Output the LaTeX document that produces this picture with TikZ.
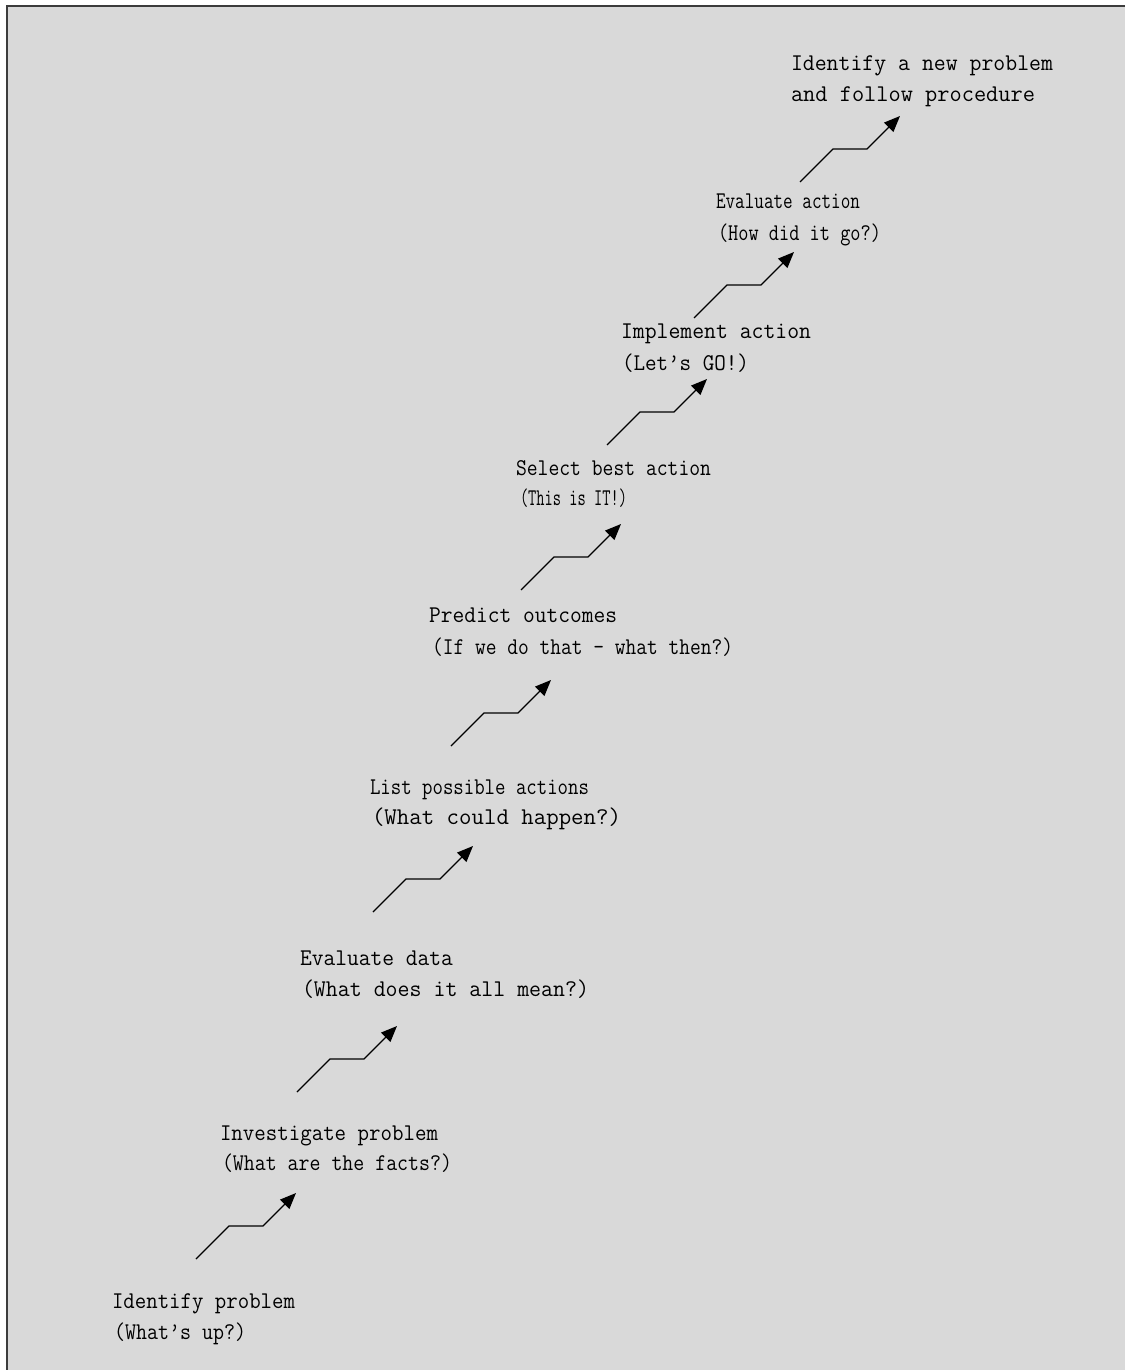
\documentclass[tikz,border=0pt]{standalone}
\usepackage{graphicx}
\usetikzlibrary{arrows.meta}
\definecolor{bgc}{HTML}{D9D9D9}
\definecolor{framec}{HTML}{3C3C3C}
\newcommand\fitw[2]{\resizebox{#1pt}{\height}{#2}}
\tikzset{
  lab/.style={anchor=base west, inner sep=0pt, outer sep=0pt, font=\fontsize{24}{28}\selectfont\ttfamily, text=black},
  stair/.style={line width=1.3pt, -{Triangle[length=16pt,width=13pt]}}
}
\begin{document}
\begin{tikzpicture}[x=1pt,y=-1pt]
\useasboundingbox (0,0) rectangle (1125,1370);
\fill[white] (0,0) rectangle (1125,1370);
\fill[bgc] (7,6) rectangle (1125,1370);
\draw[framec, line width=2.2pt] (1125,6) -- (7,6) -- (7,1370);

% labels
\node[lab] (l1a) at (112,1308) {\fitw{183}{Identify problem}};
\node[lab] (l1b) at (114,1339) {\fitw{132}{(What’s up?)}};
\node[lab] (l2a) at (220,1140) {\fitw{218}{Investigate problem}};
\node[lab] (l2b) at (222,1170) {\fitw{230}{(What are the facts?)}};
\node[lab] (l3a) at (300,965) {\fitw{153}{Evaluate data}};
\node[lab] (l3b) at (302,996) {\fitw{287}{(What does it all mean?)}};
\node[lab] (l4a) at (370,794) {\fitw{219}{List possible actions}};
\node[lab] (l4b) at (372,824) {\fitw{249}{(What could happen?)}};
\node[lab] (l5a) at (429,622) {\fitw{188}{Predict outcomes}};
\node[lab] (l5b) at (432,654) {\fitw{301}{(If we do that – what then?)}};
\node[lab] (l6a) at (516,475) {\fitw{195}{Select best action}};
\node[lab] (l6b) at (520,505) {\fitw{107}{(This is IT!)}};
\node[lab] (l7a) at (621,338) {\fitw{190}{Implement action}};
\node[lab] (l7b) at (622,370) {\fitw{127}{(Let’s GO!)}};
\node[lab] (l8a) at (716,208) {\fitw{144}{Evaluate action}};
\node[lab] (l8b) at (718,240) {\fitw{163}{(How did it go?)}};
\node[lab] (l9a) at (791,71) {\fitw{262}{Identify a new problem}};
\node[lab] (l9b) at (791,102) {\fitw{244}{and follow procedure}};

% stair arrows
\coordinate (s1) at (196,1259);
\coordinate (s2) at (297,1092);
\coordinate (s3) at (373,912);
\coordinate (s4) at (451,746);
\coordinate (s5) at (521,590);
\coordinate (s6) at (607,445);
\coordinate (s7) at (694,318);
\coordinate (s8) at (800,182);
\foreach \i in {1,...,8}{
  \draw[stair] (s\i) -- ++(33,-33) -- ++(34,0) -- ++(33,-33);
}
\end{tikzpicture}
\end{document}
